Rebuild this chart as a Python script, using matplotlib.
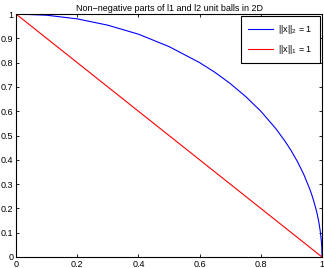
import matplotlib
matplotlib.use("Agg")
import matplotlib.pyplot as plt

# quarter of the l2 unit circle
l2_x = [0, 0.1, 0.2, 0.3, 0.4, 0.5, 0.6, 0.65, 0.7, 0.75, 0.8, 0.85, 0.88,
        0.9, 0.92, 0.94, 0.96, 0.97, 0.98, 0.985, 0.99, 0.995, 0.998, 0.9995, 1]
l2_y = [1, 0.995, 0.980, 0.954, 0.917, 0.866, 0.800, 0.760, 0.714, 0.661,
        0.600, 0.527, 0.475, 0.436, 0.392, 0.341, 0.280, 0.243, 0.199,
        0.173, 0.141, 0.100, 0.063, 0.032, 0]

# l1 unit ball edge
l1_x = [0, 1]
l1_y = [1, 0]

ticks = [0, 0.2, 0.4, 0.6, 0.8, 1]
yticks = [0, 0.1, 0.2, 0.3, 0.4, 0.5, 0.6, 0.7, 0.8, 0.9, 1]

plt.rcParams['font.family'] = ['Liberation Sans', 'DejaVu Sans']
plt.rcParams['mathtext.fontset'] = 'custom'
plt.rcParams['mathtext.rm'] = 'Liberation Sans'

fig = plt.figure(figsize=(3.24, 2.68), dpi=100)
ax = fig.add_axes([16 / 324, 1 - 257 / 268, 306 / 324, 243 / 268])

ax.plot(l2_x, l2_y, color='#0000ff', lw=0.8, label='||x||$_2$ = 1')
ax.plot(l1_x, l1_y, color='#ff0000', lw=0.8, label='||x||$_1$ = 1')

ax.set_xlim(0, 1)
ax.set_ylim(0, 1)
ax.set_xticks(ticks)
ax.set_xticklabels(['0', '0.2', '0.4', '0.6', '0.8', '1'])
ax.set_yticks(yticks)
ax.set_yticklabels(['0', '0.1', '0.2', '0.3', '0.4', '0.5', '0.6', '0.7', '0.8', '0.9', '1'])
ax.tick_params(direction='in', top=True, right=True, labelsize=6.5,
               length=2.5, width=0.6, pad=2)
for s in ax.spines.values():
    s.set_linewidth(0.8)

ax.set_title('Non\u2212negative parts of l1 and l2 unit balls in 2D', fontsize=6.5, pad=2)

leg = ax.legend(loc='upper right', fontsize=6.5, fancybox=False, framealpha=1,
                edgecolor='black', borderaxespad=0.25, handlelength=2.8,
                borderpad=0.75, labelspacing=0.75, handletextpad=0.6)
leg.get_frame().set_linewidth(0.8)

fig.savefig('out.png', dpi=100)
